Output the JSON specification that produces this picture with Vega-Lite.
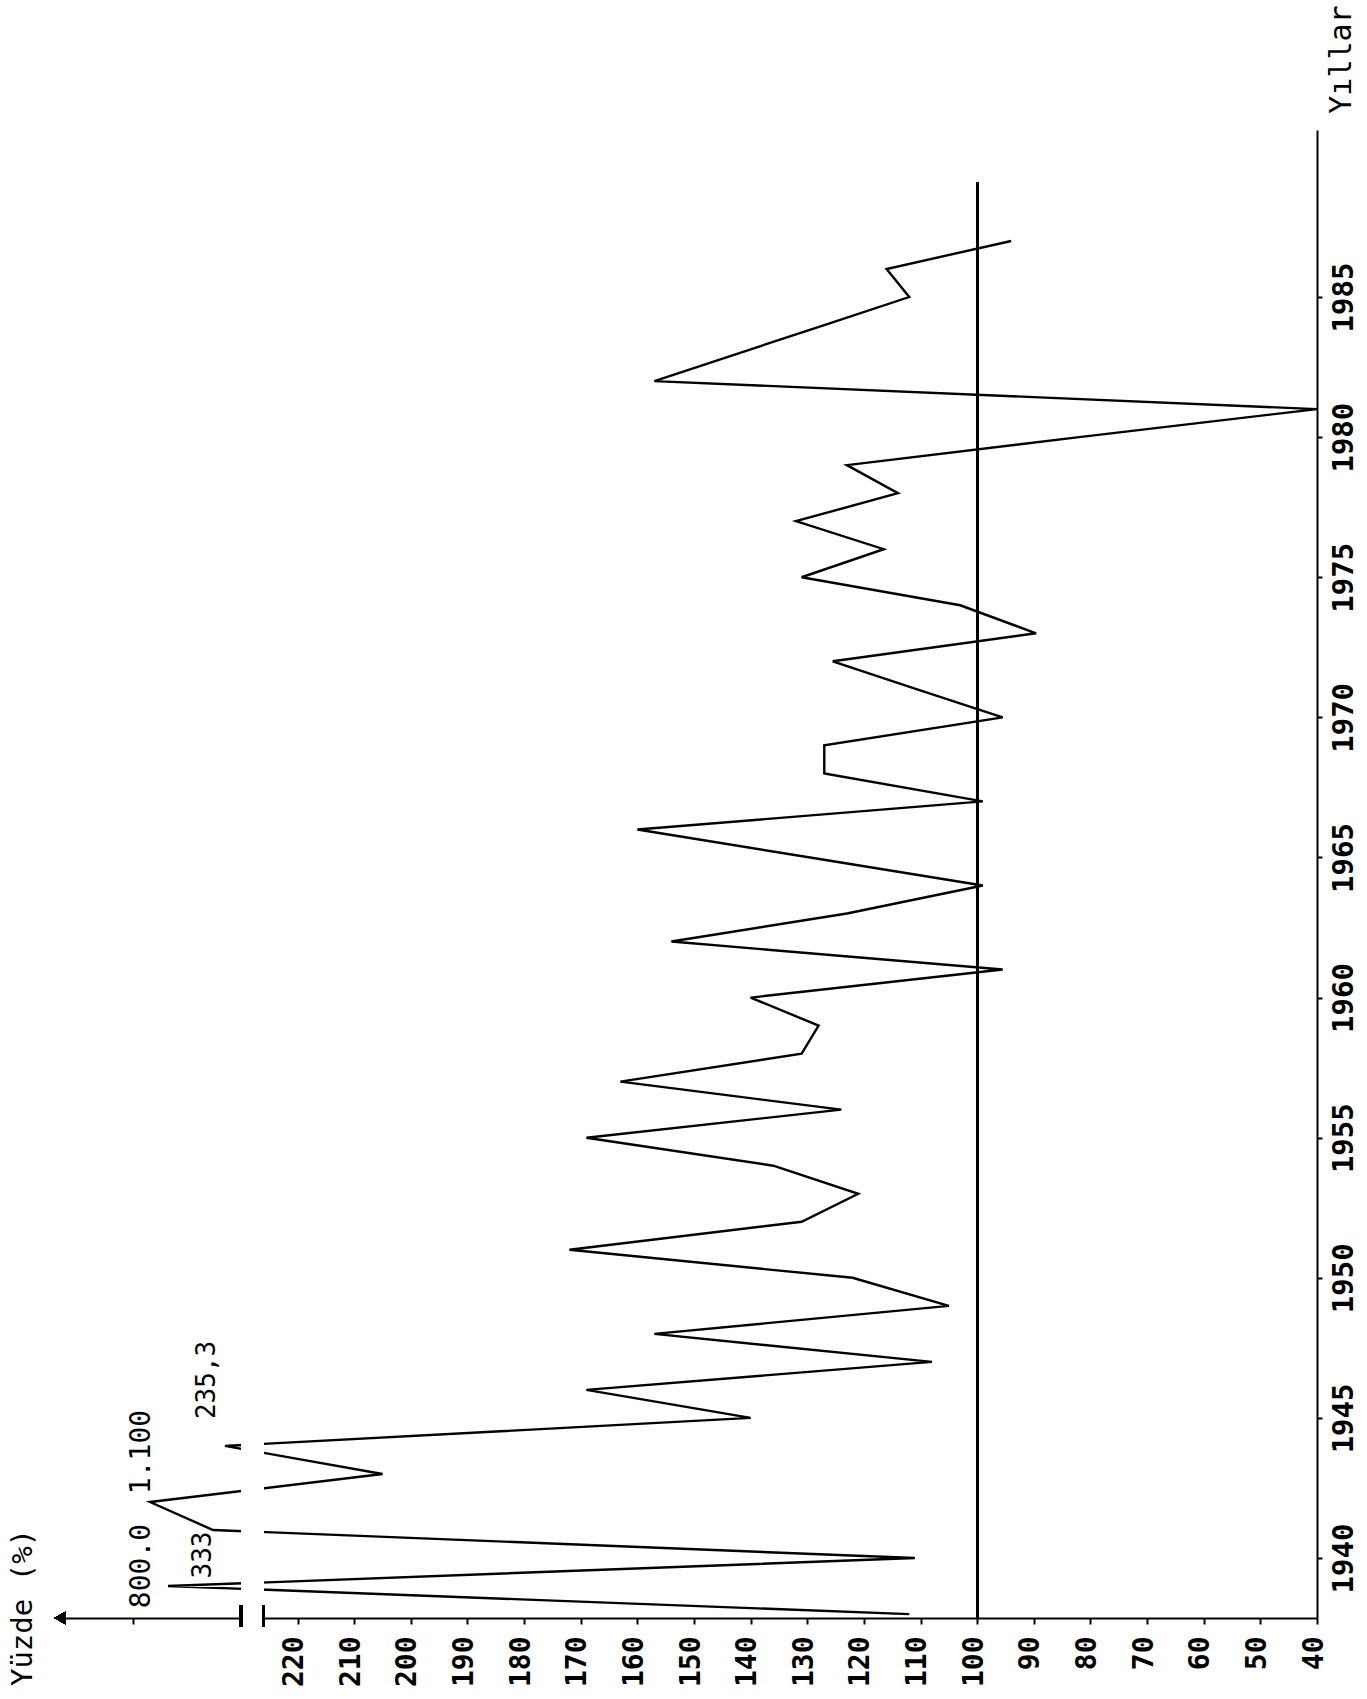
{
  "$schema": "https://vega.github.io/schema/vega-lite/v6.json",
  "width": 1257,
  "height": 1488,
  "autosize": {"type": "none"},
  "padding": {"left": 60, "top": 130, "right": 50, "bottom": 81},
  "background": "white",
  "config": {"view": {"stroke": null}, "font": "DejaVu Sans Mono"},
  "data": {
    "values": [
      {"year": 1938, "value": 112},
      {"year": 1939, "value": 800, "label": "800.0"},
      {"year": 1940, "value": 111},
      {"year": 1941, "value": 333, "label": "333"},
      {"year": 1942, "value": 1100, "label": "1.100"},
      {"year": 1943, "value": 205},
      {"year": 1944, "value": 235.3, "label": "235,3"},
      {"year": 1945, "value": 140},
      {"year": 1946, "value": 169},
      {"year": 1947, "value": 108},
      {"year": 1948, "value": 157},
      {"year": 1949, "value": 105},
      {"year": 1950, "value": 122},
      {"year": 1951, "value": 172},
      {"year": 1952, "value": 131},
      {"year": 1953, "value": 121},
      {"year": 1954, "value": 136},
      {"year": 1955, "value": 169},
      {"year": 1956, "value": 124},
      {"year": 1957, "value": 163},
      {"year": 1958, "value": 131},
      {"year": 1959, "value": 128},
      {"year": 1960, "value": 140},
      {"year": 1961, "value": 95.5},
      {"year": 1962, "value": 154},
      {"year": 1963, "value": 123},
      {"year": 1964, "value": 99},
      {"year": 1965, "value": 129.5},
      {"year": 1966, "value": 160},
      {"year": 1967, "value": 99},
      {"year": 1968, "value": 127},
      {"year": 1969, "value": 127},
      {"year": 1970, "value": 95.5},
      {"year": 1971, "value": 110.6},
      {"year": 1972, "value": 125.5},
      {"year": 1973, "value": 89.6},
      {"year": 1974, "value": 103},
      {"year": 1975, "value": 131},
      {"year": 1976, "value": 116.5},
      {"year": 1977, "value": 132},
      {"year": 1978, "value": 114},
      {"year": 1979, "value": 123},
      {"year": 1980, "value": 82},
      {"year": 1981, "value": 40},
      {"year": 1982, "value": 157},
      {"year": 1983, "value": 142},
      {"year": 1984, "value": 127},
      {"year": 1985, "value": 112},
      {"year": 1986, "value": 116},
      {"year": 1987, "value": 94}
    ]
  },
  "layer": [
    {
      "mark": {"type": "line", "color": "black", "strokeWidth": 2.4, "clip": false},
      "encoding": {
        "x": {
          "field": "value",
          "type": "quantitative",
          "scale": {
            "domain": [40, 226, 230, 235.3, 333, 800, 1100, 1500],
            "range": [1257, 203.6, 181, 165, 153, 108, 90, 0],
            "zero": false,
            "nice": false
          },
          "axis": {
            "orient": "bottom",
            "values": [40, 50, 60, 70, 80, 90, 100, 110, 120, 130, 140, 150, 160, 170, 180, 190, 200, 210, 220, 1175],
            "format": "d",
            "labelExpr": "datum.value <= 220 ? datum.label : ''",
            "labelAngle": -90,
            "labelAlign": "right",
            "labelBaseline": "middle",
            "labelOffset": -3,
            "labelFontSize": 28,
            "labelFont": "DejaVu Sans Mono",
            "labelFontWeight": "bold",
            "labelColor": "black",
            "labelPadding": 12,
            "labelFlush": false,
            "labelOverlap": false,
            "tickColor": "black",
            "tickSize": 6,
            "tickWidth": 2,
            "domainColor": "black",
            "domainWidth": 2,
            "grid": false,
            "title": "Yüzde (%)",
            "titleFont": "DejaVu Sans Mono",
            "titleFontSize": 29,
            "titleFontWeight": "normal",
            "titleColor": "black",
            "titleAngle": -90,
            "titleAlign": "center",
            "titleBaseline": "middle",
            "titleX": -38,
            "titleY": -11
          }
        },
        "y": {
          "field": "year",
          "type": "quantitative",
          "scale": {"domain": [1937.86, 1990.96], "zero": false, "nice": false},
          "axis": {
            "orient": "right",
            "values": [1940, 1945, 1950, 1955, 1960, 1965, 1970, 1975, 1980, 1985],
            "format": "d",
            "labelAngle": -90,
            "labelAlign": "center",
            "labelBaseline": "top",
            "labelFontSize": 29,
            "labelFont": "DejaVu Sans Mono",
            "labelFontWeight": "bold",
            "labelColor": "black",
            "labelPadding": 7,
            "labelFlush": false,
            "labelOverlap": false,
            "tickColor": "black",
            "tickSize": 5,
            "tickWidth": 2,
            "domainColor": "black",
            "domainWidth": 2,
            "grid": false,
            "title": "Yıllar",
            "titleFont": "DejaVu Sans Mono",
            "titleFontSize": 30,
            "titleFontWeight": "normal",
            "titleColor": "black",
            "titleAngle": -90,
            "titleAlign": "center",
            "titleBaseline": "middle",
            "titleX": 24,
            "titleY": -71
          }
        },
        "order": {"field": "year", "type": "quantitative"}
      }
    },
    {
      "mark": {"type": "rect", "color": "white", "clip": false},
      "encoding": {
        "x": {"datum": 226, "type": "quantitative"},
        "x2": {"datum": 230},
        "y": {"datum": 1937.2, "type": "quantitative"},
        "y2": {"datum": 1991}
      }
    },
    {
      "mark": {"type": "rule", "color": "black", "strokeWidth": 2, "clip": false},
      "encoding": {
        "x": {"datum": 100, "type": "quantitative"},
        "y": {"datum": 1937.86, "type": "quantitative"},
        "y2": {"datum": 1989.1}
      }
    },
    {
      "mark": {"type": "rule", "color": "black", "strokeWidth": 2.5, "clip": false},
      "encoding": {
        "x": {"datum": 226, "type": "quantitative"},
        "y": {"datum": 1937.55, "type": "quantitative"},
        "y2": {"datum": 1938.3}
      }
    },
    {
      "mark": {"type": "rule", "color": "black", "strokeWidth": 2.5, "clip": false},
      "encoding": {
        "x": {"datum": 230, "type": "quantitative"},
        "y": {"datum": 1937.55, "type": "quantitative"},
        "y2": {"datum": 1938.3}
      }
    },
    {
      "mark": {"type": "point", "shape": "triangle-left", "filled": true, "color": "black", "size": 160, "opacity": 1, "clip": false},
      "encoding": {
        "x": {"datum": 1500, "type": "quantitative"},
        "y": {"datum": 1937.86, "type": "quantitative"}
      }
    },
    {
      "transform": [{"filter": "datum.year == 1939"}],
      "mark": {"type": "text", "angle": -90, "align": "center", "baseline": "middle", "dx": 20, "dy": -26, "fontSize": 28, "font": "DejaVu Sans Mono", "color": "black", "clip": false},
      "encoding": {
        "x": {"field": "value", "type": "quantitative"},
        "y": {"field": "year", "type": "quantitative"},
        "text": {"field": "label"}
      }
    },
    {
      "transform": [{"filter": "datum.year == 1942"}],
      "mark": {"type": "text", "angle": -90, "align": "center", "baseline": "middle", "dx": 50, "dy": -8, "fontSize": 28, "font": "DejaVu Sans Mono", "color": "black", "clip": false},
      "encoding": {
        "x": {"field": "value", "type": "quantitative"},
        "y": {"field": "year", "type": "quantitative"},
        "text": {"field": "label"}
      }
    },
    {
      "transform": [{"filter": "datum.year == 1941"}],
      "mark": {"type": "text", "angle": -90, "align": "center", "baseline": "middle", "dx": -25, "dy": -10, "fontSize": 26, "font": "DejaVu Sans Mono", "color": "black", "clip": false},
      "encoding": {
        "x": {"field": "value", "type": "quantitative"},
        "y": {"field": "year", "type": "quantitative"},
        "text": {"field": "label"}
      }
    },
    {
      "transform": [{"filter": "datum.year == 1944"}],
      "mark": {"type": "text", "angle": -90, "align": "center", "baseline": "middle", "dx": 66, "dy": -18, "fontSize": 26, "font": "DejaVu Sans Mono", "color": "black", "clip": false},
      "encoding": {
        "x": {"field": "value", "type": "quantitative"},
        "y": {"field": "year", "type": "quantitative"},
        "text": {"field": "label"}
      }
    }
  ]
}
